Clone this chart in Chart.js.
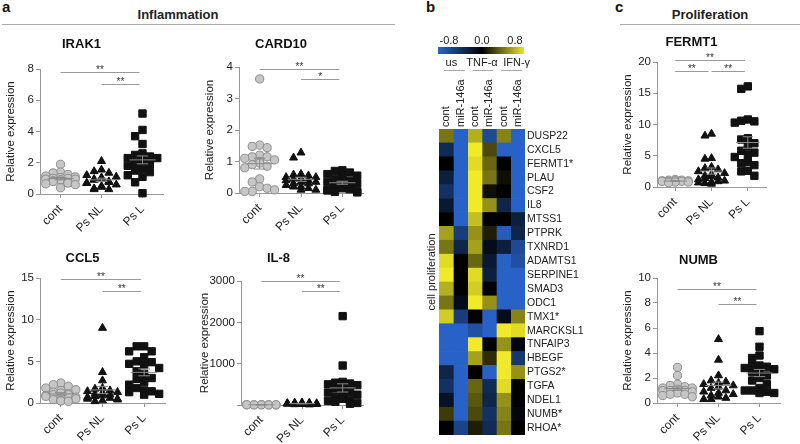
<!DOCTYPE html>
<html>
<head>
<meta charset="utf-8">
<script src="https://cdn.jsdelivr.net/npm/chart.js@4.4.1/dist/chart.umd.min.js"></script>
<style>
body { margin: 0; background: #fff; font-family: "Liberation Sans", Arial, sans-serif; }
#fig { position: relative; width: 800px; height: 444px; overflow: hidden; background: #fff; }
canvas { position: absolute; }
.lbl { position: absolute; font-weight: bold; color: #111; font-size: 15px; line-height: 1; }
.sec { position: absolute; font-weight: bold; font-size: 13px; line-height: 1; color: #222; transform: translateX(-50%); white-space: nowrap; }
.rule { position: absolute; height: 0; border-top: 1.5px solid #aaa; }
</style>
</head>
<body>
<div id="fig">
  <div class="lbl" style="left:2px;top:-1px">a</div>
  <div class="sec" style="left:178px;top:8px">Inflammation</div>
  <div class="rule" style="left:2px;top:24px;width:393px"></div>
  <div class="lbl" style="left:426px;top:-1px">b</div>
  <div class="lbl" style="left:615px;top:-1px">c</div>
  <div class="sec" style="left:710px;top:8px">Proliferation</div>
  <div class="rule" style="left:620px;top:24px;width:180px"></div>
</div>
<script>
const groups = ['cont', 'Ps NL', 'Ps L'];

// dot plot values (relative expression)
const irak1Cont = [1.9, 1.4, 1.35, 1.25, 1.15, 1.1, 1.05, 1.0, 1.0, 0.95, 0.95, 0.9, 0.9, 0.85, 0.8, 0.75, 0.7, 0.65, 0.6, 0.4];
const irak1PsNL = [2.1, 1.55, 1.45, 1.35, 1.2, 1.1, 1.05, 1.0, 0.95, 0.9, 0.8, 0.75, 0.7, 0.7, 0.6, 0.5, 0.45, 0.35, 0.3, 0.3];
const irak1PsL = [5.15, 4.1, 3.7, 3.2, 2.6, 2.5, 2.4, 2.3, 2.3, 2.2, 2.1, 2.0, 1.9, 1.8, 1.6, 1.5, 1.4, 1.2, 1.1, 0.75, 0.05];

const card10Cont = [3.62, 1.52, 1.48, 1.44, 1.2, 1.15, 1.15, 1.1, 1.05, 1.0, 0.95, 0.9, 0.85, 0.8, 0.45, 0.35, 0.2, 0.15, 0.05, 0.05, 0.1];
const card10PsNL = [1.28, 1.12, 0.6, 0.58, 0.55, 0.5, 0.5, 0.45, 0.45, 0.4, 0.4, 0.35, 0.35, 0.3, 0.3, 0.25, 0.2, 0.2, 0.15, 0.1, 0.1];
const card10PsL = [0.72, 0.7, 0.65, 0.6, 0.55, 0.5, 0.45, 0.42, 0.38, 0.35, 0.3, 0.3, 0.25, 0.22, 0.2, 0.15, 0.12, 0.1, 0.08, 0.05, 0.04, 0.02];

const ccl5Cont = [2.4, 2.2, 2.0, 1.8, 1.6, 1.5, 1.3, 1.2, 1.1, 1.0, 1.0, 0.9, 0.8, 0.7, 0.6, 0.5, 0.4, 0.3, 0.25, 0.2];
const ccl5PsNL = [9.0, 3.7, 2.7, 1.8, 1.7, 1.5, 1.4, 1.3, 1.2, 1.1, 1.0, 0.9, 0.8, 0.7, 0.6, 0.5, 0.5, 0.4, 0.3, 0.2];
const ccl5PsL = [6.8, 6.8, 6.2, 6.2, 5.5, 5.0, 4.9, 4.7, 4.6, 4.2, 3.8, 3.5, 3.0, 2.9, 2.5, 2.2, 1.8, 1.5, 1.4, 1.3, 1.1, 1.0];

const il8Cont = [8, 6, 5, 5, 4, 4, 3, 2, 6, 5];
const il8PsNL = [60, 55, 50, 45, 40, 35, 30, 30, 25, 20, 20, 15, 10];
const il8PsL = [2150, 955, 560, 540, 520, 500, 480, 440, 400, 350, 320, 300, 250, 200, 180, 150, 120, 100, 80, 50, 30];

const fermt1Cont = [1.2, 1.1, 1.1, 1.0, 1.0, 1.0, 0.9, 0.9, 0.9, 0.8, 0.8, 0.7];
const fermt1PsNL = [8.5, 8.2, 4.6, 4.5, 3.2, 3.0, 2.8, 2.5, 2.2, 2.0, 1.8, 1.7, 1.5, 1.4, 1.2, 1.0, 0.9, 0.8, 0.7, 0.6, 0.5];
const fermt1PsL = [16.1, 15.7, 10.8, 10.6, 10.5, 10.3, 7.8, 7.6, 7.0, 6.5, 5.8, 5.5, 5.2, 4.8, 4.0, 3.8, 3.5, 2.6, 2.5, 1.8];

const numbCont = [2.85, 2.2, 1.5, 1.4, 1.3, 1.2, 1.2, 1.1, 1.0, 1.0, 1.0, 0.9, 0.9, 0.8, 0.7, 0.7, 0.6, 0.5];
const numbPsNL = [5.1, 3.45, 2.2, 1.8, 1.7, 1.6, 1.5, 1.4, 1.3, 1.2, 1.0, 0.9, 0.8, 0.7, 0.6, 0.5, 0.4, 0.3, 0.3];
const numbPsL = [5.75, 4.5, 3.8, 3.6, 3.0, 3.0, 2.9, 2.8, 2.7, 2.6, 2.5, 2.2, 2.0, 1.8, 1.5, 1.2, 1.0, 1.0, 0.9, 0.8, 0.8];

// heatmap
const genes = ['DUSP22', 'CXCL5', 'FERMT1*', 'PLAU', 'CSF2', 'IL8', 'MTSS1', 'PTPRK', 'TXNRD1', 'ADAMTS1', 'SERPINE1',
  'SMAD3', 'ODC1', 'TMX1*', 'MARCKSL1', 'TNFAIP3', 'HBEGF', 'PTGS2*', 'TGFA', 'NDEL1', 'NUMB*', 'RHOA*'];
const treatments = ['us', 'TNF-\u03b1', 'IFN-\u03b3'];
const conditions = ['cont', 'miR-146a'];
const colorTicks = ['-0.8', '0.0', '0.8'];
const usCont = [0.4, -0.35, 0.0, -0.25, -0.4, -0.2, 0.0, 0.55, 0.4, 0.75, 0.8, 0.6, 0.4, 0.7, -0.8, -0.8, -0.8, -0.3, -0.4, -0.15, 0.2, 0.0];
const usMiR = [-0.8, -0.8, -0.8, -0.8, -0.8, -0.8, -0.8, -0.5, -0.3, 0.0, 0.0, 0.0, -0.1, -0.5, -0.8, -0.8, -0.8, -0.8, -0.8, -0.8, -0.8, -0.55];
const tnfCont = [0.6, 0.8, 0.75, 0.8, 0.8, 0.8, 0.65, 0.5, 0.55, 0.35, 0.75, 0.7, 0.8, 0.0, -0.65, 0.8, 0.55, 0.0, 0.35, 0.3, 0.25, 0.1];
const tnfMiR = [-0.6, 0.25, 0.35, 0.4, 0.05, 0.5, 0.0, 0.1, -0.1, -0.2, -0.25, 0.0, 0.5, -0.8, -0.8, 0.0, 0.15, -0.8, -0.35, -0.3, -0.4, -0.35];
const ifnCont = [0.45, -0.8, 0.0, 0.05, 0.0, -0.3, 0.0, -0.75, -0.25, -0.8, -0.8, -0.8, -0.8, -0.1, 0.8, 0.5, 0.8, 0.8, 0.75, 0.5, 0.45, 0.4];
const ifnMiR = [-0.8, -0.8, -0.8, -0.8, -0.8, -0.8, -0.25, -0.3, -0.6, -0.65, -0.8, -0.8, -0.8, 0.45, 0.75, -0.05, -0.45, 0.5, 0.0, 0.0, -0.05, 0.0];

Chart.defaults.font.family = '"Liberation Sans", Arial, sans-serif';
Chart.defaults.color = '#222';

const fig = document.getElementById('fig');

const marks = [
  { style: 'circle', r: 4.1, fill: '#c6c6c6', line: '#8c8c8c' },
  { style: 'triangle', r: 4.6, fill: '#111', line: '#111' },
  { style: 'rect', r: 5.2, fill: '#111', line: '#111' }
];

// simple beeswarm: push overlapping points sideways
function spread(vals, yMax) {
  const slots = [0, -0.18, 0.18, -0.36, 0.36, -0.09, 0.09, -0.27, 0.27];
  const placed = [];
  const dyLim = yMax * 0.06;
  return vals.map(v => {
    let best = 0, bestHits = Infinity;
    for (const s of slots) {
      const hits = placed.filter(p => Math.abs(p.y - v) < dyLim && Math.abs(p.x - s) < 0.16).length;
      if (hits < bestHits) { best = s; bestHits = hits; }
      if (hits === 0) break;
    }
    placed.push({ x: best, y: v });
    return best;
  });
}

function makeDotPlot(box, name, sets, yMax, step, sig, hideZero) {
  const axisW = box.axisW || 40;
  const left = box.L - axisW;
  const width = Math.round(2 * (box.tx - left));
  const top = Math.round(box.ty - 11);
  const padTop = box.ty - top - 7.8;
  const padBottom = box.T - top - 15.6 - padTop;
  const height = box.B - top + 50;
  const canvas = document.createElement('canvas');
  canvas.width = width;
  canvas.height = height;
  canvas.style.left = left + 'px';
  canvas.style.top = top + 'px';
  fig.appendChild(canvas);

  const summary = {
    id: 'summary',
    afterDatasetsDraw(chart) {
      const { ctx, scales: { x, y } } = chart;
      ctx.save();
      ctx.strokeStyle = '#8a8a8a';
      ctx.lineWidth = 1;
      const h = (a, b, v) => { ctx.beginPath(); ctx.moveTo(x.getPixelForValue(a), y.getPixelForValue(v)); ctx.lineTo(x.getPixelForValue(b), y.getPixelForValue(v)); ctx.stroke(); };
      sets.forEach((vals, g) => {
        const n = vals.length;
        const m = vals.reduce((s, v) => s + v, 0) / n;
        const sd = Math.sqrt(vals.reduce((s, v) => s + (v - m) ** 2, 0) / (n - 1));
        const sem = sd / Math.sqrt(n);
        const c = g + 1;
        h(c - 0.32, c + 0.32, m);
        h(c - 0.14, c + 0.14, m + sem);
        h(c - 0.14, c + 0.14, m - sem);
        ctx.beginPath();
        ctx.moveTo(x.getPixelForValue(c), y.getPixelForValue(m - sem));
        ctx.lineTo(x.getPixelForValue(c), y.getPixelForValue(m + sem));
        ctx.stroke();
      });
      ctx.restore();
    }
  };

  const sigBars = {
    id: 'sigBars',
    afterDraw(chart) {
      const { ctx, scales: { x, y } } = chart;
      ctx.save();
      ctx.strokeStyle = '#999';
      ctx.lineWidth = 1;
      ctx.fillStyle = '#333';
      ctx.font = '10px "Liberation Sans", Arial, sans-serif';
      ctx.textAlign = 'center';
      ctx.textBaseline = 'alphabetic';
      sig.forEach(([a, b, v, txt]) => {
        const x1 = x.getPixelForValue(a), x2 = x.getPixelForValue(b) - 3, yy = Math.round(y.getPixelForValue(v)) + 0.5;
        ctx.beginPath(); ctx.moveTo(x1, yy); ctx.lineTo(x2, yy); ctx.stroke();
        ctx.fillText(txt, (x1 + x2) / 2, yy);
      });
      ctx.restore();
    }
  };

  new Chart(canvas, {
    type: 'scatter',
    data: {
      datasets: sets.map((vals, g) => {
        const off = spread(vals, yMax);
        return {
          data: vals.map((v, i) => ({ x: g + 1 + off[i], y: v })),
          pointStyle: marks[g].style,
          pointRadius: marks[g].r,
          backgroundColor: marks[g].fill,
          borderColor: marks[g].line,
          borderWidth: 1,
          clip: false
        };
      })
    },
    options: {
      responsive: false,
      animation: false,
      layout: { padding: { top: 0, right: left + width - box.R, bottom: 0, left: 0 } },
      plugins: {
        legend: { display: false },
        tooltip: { enabled: false },
        title: {
          display: true,
          text: name,
          color: '#111',
          font: { size: 13, weight: 'bold', lineHeight: 1.2 },
          padding: { top: padTop, bottom: padBottom }
        }
      },
      scales: {
        x: {
          type: 'linear',
          min: 0.5,
          max: 3.5,
          afterBuildTicks: s => { s.ticks = [1, 2, 3].map(v => ({ value: v })); },
          afterFit: s => { s.height = 50; },
          ticks: { callback: v => groups[v - 1], minRotation: 45, maxRotation: 45, font: { size: 12 }, padding: 4 },
          grid: { drawOnChartArea: false, tickLength: 4, color: '#999' },
          border: { color: '#999' }
        },
        y: {
          min: 0,
          max: yMax,
          afterFit: s => { s.width = axisW; },
          ticks: { stepSize: step, font: { size: 11.5 }, padding: 2, callback: v => (hideZero && v === 0) ? '' : v },
          grid: { drawOnChartArea: false, tickLength: 4, color: '#999' },
          border: { color: '#999' },
          title: { display: true, text: 'Relative expression', font: { size: 11.5, lineHeight: 1.2 }, padding: { top: 4, bottom: 0 } }
        }
      }
    },
    plugins: [summary, sigBars]
  });
}

makeDotPlot({ L: 40, R: 163, T: 69, B: 194, tx: 88, ty: 44 }, 'IRAK1', [irak1Cont, irak1PsNL, irak1PsL], 8, 2,
  [[1, 3, 7.8, '**'], [2, 3, 7.05, '**']]);
makeDotPlot({ L: 239, R: 363, T: 67, B: 193, tx: 292, ty: 44 }, 'CARD10', [card10Cont, card10PsNL, card10PsL], 4, 1,
  [[1, 3, 3.95, '**'], [2, 3, 3.63, '*']]);
makeDotPlot({ L: 40, R: 165, T: 278, B: 403, tx: 95, ty: 258 }, 'CCL5', [ccl5Cont, ccl5PsNL, ccl5PsL], 15, 5,
  [[1, 3, 14.9, '**'], [2, 3, 13.5, '**']]);
makeDotPlot({ L: 241, R: 363, T: 281, B: 405, tx: 293, ty: 258, axisW: 47 }, 'IL-8', [il8Cont, il8PsNL, il8PsL], 3000, 1000,
  [[1, 3, 2990, '**'], [2, 3, 2750, '**']], true);
makeDotPlot({ L: 657, R: 766, T: 62, B: 187, tx: 712, ty: 42 }, 'FERMT1', [fermt1Cont, fermt1PsNL, fermt1PsL], 20, 5,
  [[1, 3, 20.3, '**'], [1, 2, 18.5, '**'], [2, 3, 18.5, '**']]);
makeDotPlot({ L: 657, R: 780, T: 278, B: 403, tx: 712, ty: 260 }, 'NUMB', [numbCont, numbPsNL, numbPsL], 10, 2,
  [[1, 3, 9.1, '**'], [2, 3, 7.9, '**']]);

// heatmap panel b
function heatColor(v) {
  const t = Math.max(-1, Math.min(1, v / 0.8));
  const c = t < 0 ? [40, 98, 198] : [240, 234, 40];
  const k = Math.abs(t);
  return 'rgb(' + Math.round(c[0] * k) + ',' + Math.round(c[1] * k) + ',' + Math.round(c[2] * k) + ')';
}

const heatCols = [usCont, usMiR, tnfCont, tnfMiR, ifnCont, ifnMiR];
const groupShift = [-2, 0, 6];

const heatDecor = {
  id: 'heatDecor',
  afterDraw(chart) {
    const { ctx, scales: { x, y } } = chart;
    const font = '11px "Liberation Sans", Arial, sans-serif';
    ctx.save();
    // colour bar
    const grad = ctx.createLinearGradient(x.left, 0, x.right, 0);
    grad.addColorStop(0, heatColor(-0.8));
    grad.addColorStop(0.5, heatColor(0));
    grad.addColorStop(1, heatColor(0.8));
    ctx.fillStyle = grad;
    ctx.fillRect(x.left - 1, 47, x.right - x.left, 7);
    ctx.fillStyle = '#222';
    ctx.font = font;
    ctx.textAlign = 'center';
    ctx.textBaseline = 'middle';
    const cbx = [x.left + 10, (x.left + x.right) / 2, x.right - 10];
    colorTicks.forEach((t, i) => ctx.fillText(t, cbx[i], 41));
    // treatment groups
    ctx.strokeStyle = '#aaa';
    ctx.lineWidth = 1;
    treatments.forEach((t, k) => {
      const a = x.getPixelForValue(2 * k), b = x.getPixelForValue(2 * k + 2);
      ctx.fillText(t, (a + b) / 2 + groupShift[k], 63);
      ctx.beginPath(); ctx.moveTo(a + 5, 70.5); ctx.lineTo(b - 3, 70.5); ctx.stroke();
    });
    // column labels
    ctx.textAlign = 'left';
    for (let i = 0; i < 6; i++) {
      ctx.save();
      ctx.translate(x.getPixelForValue(i + 0.5), y.top - 2);
      ctx.rotate(-Math.PI / 2);
      ctx.fillText(conditions[i % 2], 0, 0);
      ctx.restore();
    }
    // side label
    ctx.save();
    ctx.translate(32, 272);
    ctx.rotate(-Math.PI / 2);
    ctx.textAlign = 'center';
    ctx.fillText('cell proliferation', 0, 0);
    ctx.restore();
    ctx.restore();
  }
};

const heatCanvas = document.createElement('canvas');
heatCanvas.width = 205;
heatCanvas.height = 444;
heatCanvas.style.left = '400px';
heatCanvas.style.top = '0px';
fig.appendChild(heatCanvas);

new Chart(heatCanvas, {
  type: 'bar',
  data: {
    labels: genes,
    datasets: heatCols.map(col => ({
      data: col.map(() => 1),
      backgroundColor: col.map(heatColor),
      borderWidth: 0,
      barPercentage: 1,
      categoryPercentage: 1
    }))
  },
  options: {
    indexAxis: 'y',
    responsive: false,
    animation: false,
    layout: { padding: { left: 39, top: 129, bottom: 9, right: 0 } },
    plugins: { legend: { display: false }, tooltip: { enabled: false } },
    scales: {
      x: { stacked: true, min: 0, max: 6, display: false },
      y: {
        stacked: true,
        position: 'right',
        afterFit: s => { s.width = 80; },
        grid: { display: false, drawTicks: false },
        border: { display: false },
        ticks: { autoSkip: false, font: { size: 10.5 }, padding: 2 }
      }
    }
  },
  plugins: [heatDecor]
});
</script>
</body>
</html>
